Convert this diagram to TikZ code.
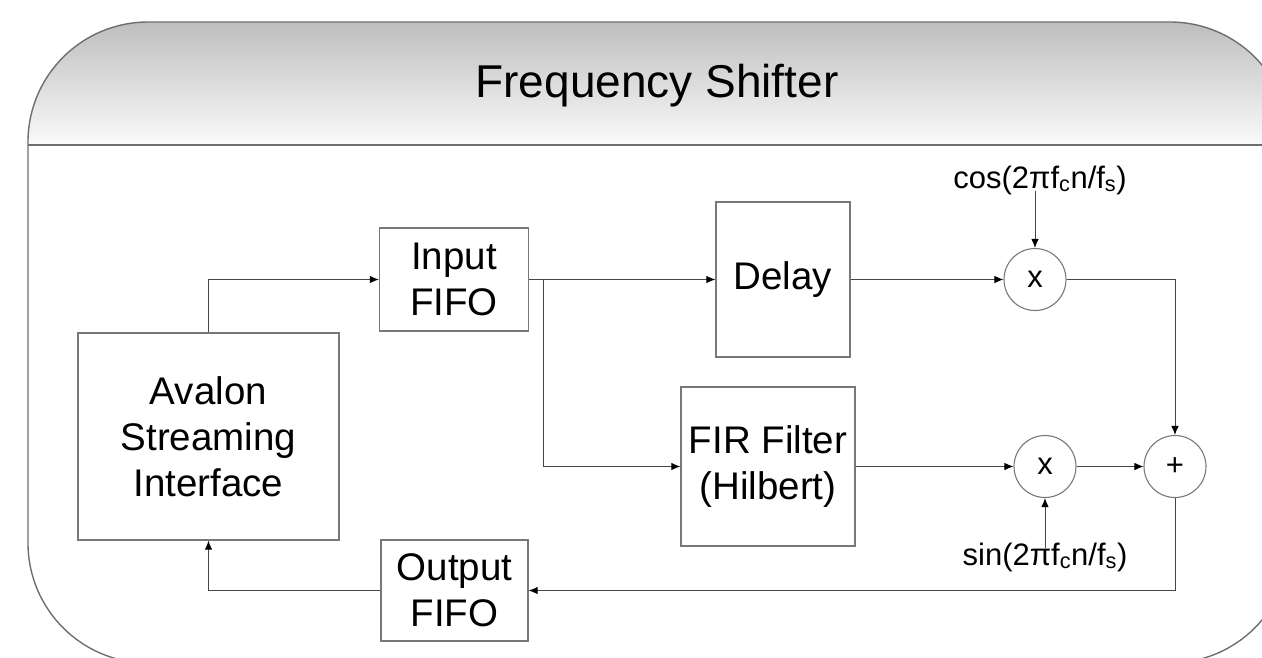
\documentclass[tikz,border=0pt]{standalone}
\usepackage{fontspec}
\setmainfont{Liberation Sans}
\usetikzlibrary{arrows.meta}
\definecolor{frame}{RGB}{110,110,110}
\definecolor{boxline}{RGB}{120,120,120}
\definecolor{wire}{RGB}{70,70,70}
\definecolor{headtop}{RGB}{190,190,190}
\definecolor{headbot}{RGB}{250,250,250}
\tikzset{
  blk/.style={draw=boxline, line width=1.3pt, rectangle, inner sep=0pt, align=center,
    font=\fontsize{38.5}{46}\selectfont},
  op/.style={draw=boxline, line width=1.1pt, circle, inner sep=0pt, minimum size=62pt,
    font=\fontsize{31}{33}\selectfont},
  lbl/.style={inner sep=0pt, font=\fontsize{31}{34}\selectfont},
  wireline/.style={draw=wire, line width=1pt},
  arr/.style={wireline, arrows={-{Latex[length=9pt,width=7.5pt,fill=black,color=black]}}},
}
\begin{document}
\begin{tikzpicture}[x=1pt,y=-1pt]
\useasboundingbox (0,0) rectangle (1262,657);
\clip (0,0) rectangle (1262,657);
% container
\begin{scope}
  \clip[rounded corners=120pt] (28,22) rectangle (1290,663);
  \shade[top color=headtop, bottom color=headbot] (28,22) rectangle (1290,145);
\end{scope}
\draw[frame, line width=1.4pt, rounded corners=120pt] (28,22) rectangle (1290,663);
\draw[frame, line width=1.6pt] (28,145) -- (1290,145);
\node[inner sep=0pt, anchor=base, font=\fontsize{46}{52}\selectfont] (title) at (657,97) {Frequency Shifter};
% blocks
\node[blk, minimum width=261pt, minimum height=207pt] (avalon) at (208.5,436.5) {Avalon\\Streaming\\Interface};
\node[blk, minimum width=149pt, minimum height=103pt] (infifo) at (454,279.5) {Input\\FIFO};
\node[blk, minimum width=134pt, minimum height=155pt] (delay) at (783,279.5) {Delay};
\node[blk, minimum width=174pt, minimum height=159pt] (fir) at (768,466.5) {FIR Filter\\(Hilbert)};
\node[blk, minimum width=147pt, minimum height=101pt] (outfifo) at (454.5,590.5) {Output\\FIFO};
\node[op] (mx1) at (1035,279.5) {x};
\node[op] (mx2) at (1045,466.5) {x};
\node[op] (plus) at (1175,466.5) {+};
\node[lbl] (cosl) at (1040,180) {cos(2πf\textsubscript{c}n/f\textsubscript{s})};
\node[lbl] (sinl) at (1045,557) {sin(2πf\textsubscript{c}n/f\textsubscript{s})};
\coordinate (br) at (543,279.5);
% connectors
\draw[arr] (avalon.north) |- (infifo.west);
\draw[wireline] (infifo.east) -- (br);
\draw[arr] (br) -- (delay.west);
\draw[arr] (br) |- (fir.west);
\draw[arr] (delay.east) -- (mx1.west);
\draw[arr] ([yshift=4pt]cosl.south -| mx1) -- (mx1.north);
\draw[arr] (mx1.east) -| (plus.north);
\draw[arr] (fir.east) -- (mx2.west);
\draw[arr] (mx2.east) -- (plus.west);
\draw[arr] ([yshift=-6pt]sinl.north -| mx2) -- (mx2.south);
\draw[arr] (plus.south) |- (outfifo.east);
\draw[arr] (outfifo.west) -| (avalon.south);
\end{tikzpicture}
\end{document}
